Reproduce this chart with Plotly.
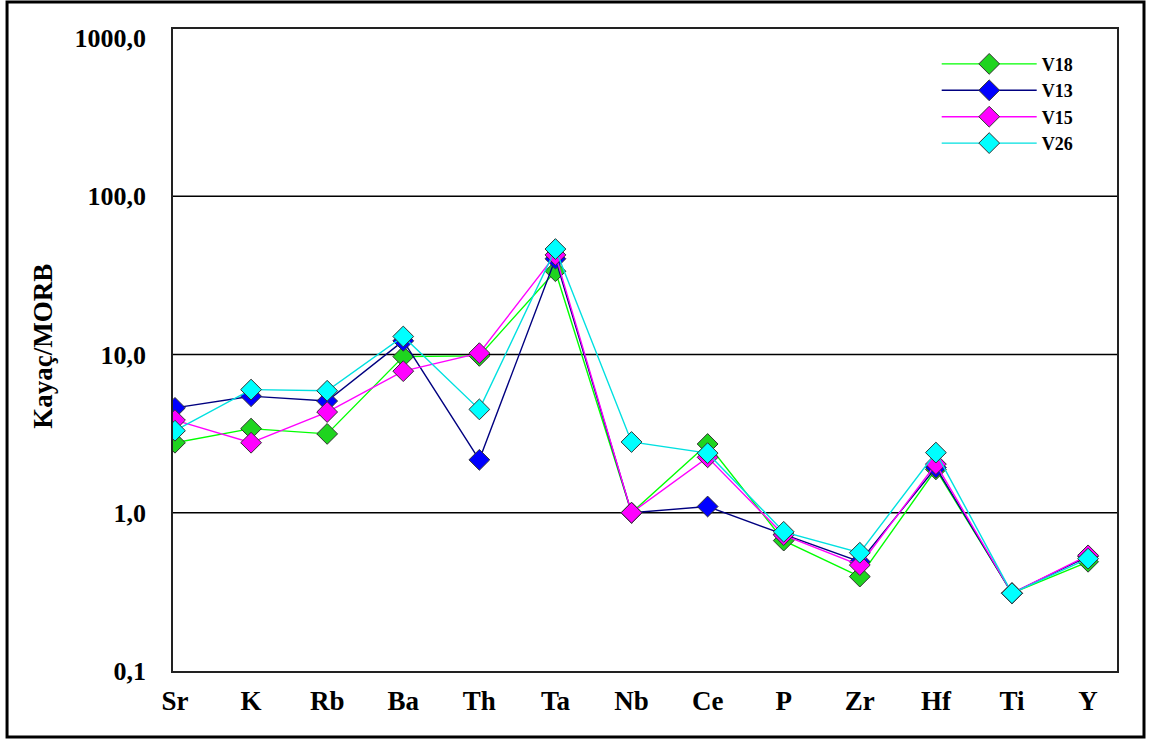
import plotly.graph_objects as go

# Element order along the x axis (MORB-normalised spider diagram)
elements = ["Sr", "K", "Rb", "Ba", "Th", "Ta", "Nb", "Ce", "P", "Zr", "Hf", "Ti", "Y"]

# Rock / MORB ratios for each sample
v18 = [2.77, 3.40, 3.15, 9.7, 9.8, 33.6, 1.00, 2.72, 0.667, 0.395, 1.88, 0.31, 0.49]
v13 = [4.60, 5.45, 5.08, 12.2, 2.16, 40.3, 1.00, 1.095, 0.73, 0.49, 1.93, 0.31, 0.53]
v15 = [3.85, 2.77, 4.33, 7.85, 10.2, 42.6, 1.00, 2.24, 0.723, 0.467, 2.03, 0.31, 0.538]
v26 = [3.30, 6.00, 5.90, 13.0, 4.50, 46.4, 2.80, 2.38, 0.758, 0.559, 2.40, 0.31, 0.513]

series = [
    ("V18", v18, "#00ff00", "#1fd41f"),
    ("V13", v13, "#000080", "#0000ff"),
    ("V15", v15, "#ff00ff", "#ff00ff"),
    ("V26", v26, "#00e0e0", "#00ffff"),
]

ytick_vals = [0.1, 1, 10, 100, 1000]
ytick_text = ["0,1", "1,0", "10,0", "100,0", "1000,0"]
grid_vals = [1, 10, 100]

serif = "Liberation Serif, Times New Roman, serif"
xs = list(range(len(elements)))

fig = go.Figure()
for name, vals, line_col, fill_col in series:
    fig.add_trace(go.Scatter(
        x=xs, y=vals, name=name, mode="lines+markers",
        line=dict(color=line_col, width=1.4),
        marker=dict(symbol="diamond", size=16, color=fill_col,
                    line=dict(color="#333333", width=1)),
    ))

shapes = [
    # outer frame around the whole chart
    dict(type="rect", xref="paper", yref="paper",
         x0=-0.1758, x1=1.0286, y0=-0.1028, y1=1.042,
         line=dict(color="black", width=3), layer="above"),
]
for g in grid_vals:
    shapes.append(dict(type="line", xref="paper", yref="y", x0=0, x1=1, y0=g, y1=g,
                       line=dict(color="black", width=1.3), layer="below"))

fig.update_layout(
    width=1150, height=742,
    margin=dict(l=173, r=33, t=29, b=71),
    paper_bgcolor="white", plot_bgcolor="white",
    showlegend=True,
    legend=dict(x=0.809, y=0.974, xanchor="left", yanchor="top",
                bgcolor="rgba(0,0,0,0)", itemwidth=95,
                font=dict(family=serif, size=18, color="black", weight="bold")),
    shapes=shapes,
    annotations=[dict(text="Kayaç/MORB", xref="paper", yref="paper",
                      x=-0.1377, y=0.505, textangle=-90, showarrow=False,
                      xanchor="center", yanchor="middle",
                      font=dict(family=serif, size=27, color="black", weight="bold"))],
)
fig.update_xaxes(
    range=[-0.026, 12.38], tickvals=xs, ticktext=elements,
    showgrid=False, zeroline=False, showline=True, linecolor="#222222", linewidth=1.5,
    mirror=True, ticks="", ticklabelstandoff=5,
    tickfont=dict(family=serif, size=27, color="black", weight="bold"),
)
fig.update_yaxes(
    type="log", range=[-1, 3.057], tickvals=ytick_vals, ticktext=ytick_text,
    showgrid=False, zeroline=False, showline=True, linecolor="#222222", linewidth=1.5,
    mirror=True, ticks="", ticklabelstandoff=20,
    tickfont=dict(family=serif, size=26, color="black", weight="bold"),
)

fig.write_html("out.html")
